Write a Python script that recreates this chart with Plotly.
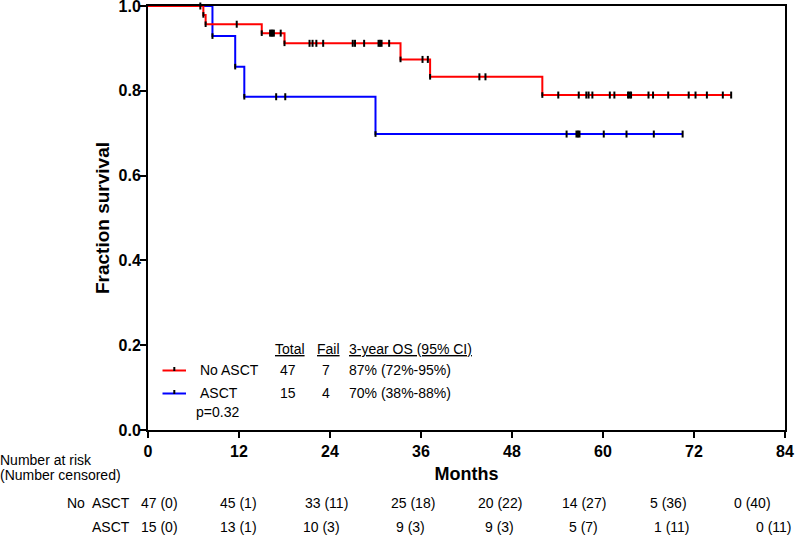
import plotly.graph_objects as go
import numpy as np

# ---------------- data ----------------
# Kaplan-Meier step curves: time (months) of each step and survival after it
no_asct_times = [0, 7.3, 7.6, 15.0, 18.0, 33.3, 37.2, 52.0, 76.9]
no_asct_surv = [1.0, 0.979, 0.957, 0.936, 0.912, 0.874, 0.833, 0.790, 0.790]
no_asct_censored = [6.9, 11.7, 16.1, 16.3, 16.4, 16.6, 17.5, 21.3, 21.7, 22.2, 23.1,
                    27.0, 27.3, 28.5, 30.4, 30.6, 30.8, 31.8, 36.2, 36.9, 43.7, 44.5,
                    54.1, 56.8, 57.8, 58.1, 58.6, 60.9, 61.5, 63.3, 63.5, 63.7, 66.0,
                    66.6, 68.6, 71.3, 72.2, 73.7, 75.8, 76.9]

asct_times = [0, 8.5, 11.5, 12.7, 30.0, 70.5]
asct_surv = [1.0, 0.929, 0.857, 0.786, 0.698, 0.698]
asct_censored = [16.9, 18.1, 55.2, 56.5, 56.7, 56.9, 60.1, 63.1, 66.7, 70.5]

x_ticks = [0, 12, 24, 36, 48, 60, 72, 84]
y_ticks = [0.0, 0.2, 0.4, 0.6, 0.8, 1.0]

# number at risk (number censored)
risk_no_asct = [47, 45, 33, 25, 20, 14, 5, 0]
cens_no_asct = [0, 1, 11, 18, 22, 27, 36, 40]
risk_asct = [15, 13, 10, 9, 9, 5, 1, 0]
cens_asct = [0, 1, 3, 3, 3, 7, 11, 11]

# legend table
groups = ["No ASCT", "ASCT"]
totals = [47, 15]
fails = [7, 4]
os3 = ["87% (72%-95%)", "70% (38%-88%)"]
p_value = "p=0.32"

RED = "#FF0000"
BLUE = "#0000FF"
FONT = "Arial, Liberation Sans, sans-serif"

# ---------------- layout geometry (pixels) ----------------
W, H = 800, 539
L, R, T, B = 148, 15, 6, 109
PW, PH = W - L - R, H - T - B


def px(x):
    return (x - L) / PW


def py(y):
    return (H - B - y) / PH


def level_at(times, surv, t):
    idx = np.searchsorted(np.array(times), t, side="right") - 1
    return surv[max(idx, 0)]


fig = go.Figure()

for times, surv, cens, col in [(asct_times, asct_surv, asct_censored, BLUE),
                               (no_asct_times, no_asct_surv, no_asct_censored, RED)]:
    fig.add_trace(go.Scatter(x=times, y=surv, mode="lines",
                             line=dict(color=col, width=2, shape="hv"),
                             hoverinfo="skip"))

for times, surv, cens in [(asct_times, asct_surv, asct_censored),
                          (no_asct_times, no_asct_surv, no_asct_censored)]:
    cy = [level_at(times, surv, t) for t in cens]
    fig.add_trace(go.Scatter(x=cens, y=cy, mode="markers", cliponaxis=False,
                             marker=dict(symbol="line-ns", size=5,
                                         line=dict(width=2, color="black")),
                             hoverinfo="skip"))
    fig.add_trace(go.Scatter(x=times[1:-1], y=surv[1:-1], mode="markers",
                             cliponaxis=False,
                             marker=dict(symbol="line-ns", size=4,
                                         line=dict(width=2, color="black")),
                             hoverinfo="skip"))

axis_common = dict(showline=True, linewidth=2, linecolor="black", mirror=True,
                   ticks="outside", ticklen=6, tickwidth=2, tickcolor="black",
                   showgrid=False, zeroline=False, layer="below traces",
                   ticklabeloverflow="allow",
                   tickfont=dict(family=FONT, size=16, color="black", weight="bold"))

fig.update_layout(
    width=W, height=H,
    margin=dict(l=L, r=R, t=T, b=B),
    plot_bgcolor="white", paper_bgcolor="white",
    showlegend=False,
    font=dict(family=FONT, color="black"),
    xaxis=dict(range=[0, 84], tickvals=x_ticks, automargin=False,
               title=dict(text="Months", standoff=8,
                          font=dict(family=FONT, size=18, weight="bold", color="black")),
               **axis_common),
    yaxis=dict(range=[0, 1], tickvals=y_ticks, tickformat=".1f", automargin=False,
               ticklabelstandoff=-4,
               title=dict(text="Fraction survival", standoff=4,
                          font=dict(family=FONT, size=19, weight="bold", color="black")),
               **axis_common),
)

ann = []
reg = dict(family=FONT, size=14, color="black")

# ---- legend table inside plot ----
hdr_y = 349
row_y = [370, 393]
ann.append(dict(x=px(272.5), y=py(hdr_y), text="<span style='text-decoration:underline'>Total</span>",
                xanchor="left"))
ann.append(dict(x=px(315), y=py(hdr_y), text="<span style='text-decoration:underline'>Fail</span>",
                xanchor="left"))
ann.append(dict(x=px(346.5), y=py(hdr_y),
                text="<span style='text-decoration:underline'>3-year OS (95% CI)</span>",
                xanchor="left"))
colors = [RED, BLUE]
for i in range(2):
    ann.append(dict(x=px(198), y=py(row_y[i]), text=groups[i], xanchor="left"))
    ann.append(dict(x=px(288), y=py(row_y[i]), text=str(totals[i]), xanchor="center"))
    ann.append(dict(x=px(326), y=py(row_y[i]), text=str(fails[i]), xanchor="center"))
    ann.append(dict(x=px(346.5), y=py(row_y[i]), text=os3[i], xanchor="left"))
ann.append(dict(x=px(194), y=py(412), text=p_value, xanchor="left"))

shapes = []
for i in range(2):
    shapes.append(dict(type="line", xref="paper", yref="paper",
                       x0=px(162.5), x1=px(186), y0=py(row_y[i] + 0.5), y1=py(row_y[i] + 0.5),
                       line=dict(color=colors[i], width=2)))
    shapes.append(dict(type="line", xref="paper", yref="paper",
                       x0=px(174.3), x1=px(174.3), y0=py(row_y[i] + 1), y1=py(row_y[i] - 3),
                       line=dict(color="black", width=2)))

# ---- number at risk table below ----
ann.append(dict(x=px(-2), y=py(460), text="Number at risk", xanchor="left"))
ann.append(dict(x=px(-2), y=py(475), text="(Number censored)", xanchor="left"))
risk_rows_y = [503, 527]
ann.append(dict(x=px(132), y=py(risk_rows_y[0]), text="No  ASCT", xanchor="right"))
ann.append(dict(x=px(132), y=py(risk_rows_y[1]), text="ASCT", xanchor="right"))
row1_px = [159, 238, 326, 413, 500, 584, 668, 752.5]
row2_px = [159, 238.5, 321, 410.7, 499.5, 583.7, 671.5, 774]
for j in range(len(x_ticks)):
    ann.append(dict(x=px(row1_px[j]), y=py(risk_rows_y[0]),
                    text=f"{risk_no_asct[j]} ({cens_no_asct[j]})", xanchor="center"))
    ann.append(dict(x=px(row2_px[j]), y=py(risk_rows_y[1]),
                    text=f"{risk_asct[j]} ({cens_asct[j]})", xanchor="center"))

for a in ann:
    a.update(xref="paper", yref="paper", showarrow=False, yanchor="middle",
             font=reg)

fig.update_layout(annotations=ann, shapes=shapes)

fig.write_html("out.html", config={"displayModeBar": False},
               post_script="document.body.style.margin='0';document.body.style.padding='0';")
